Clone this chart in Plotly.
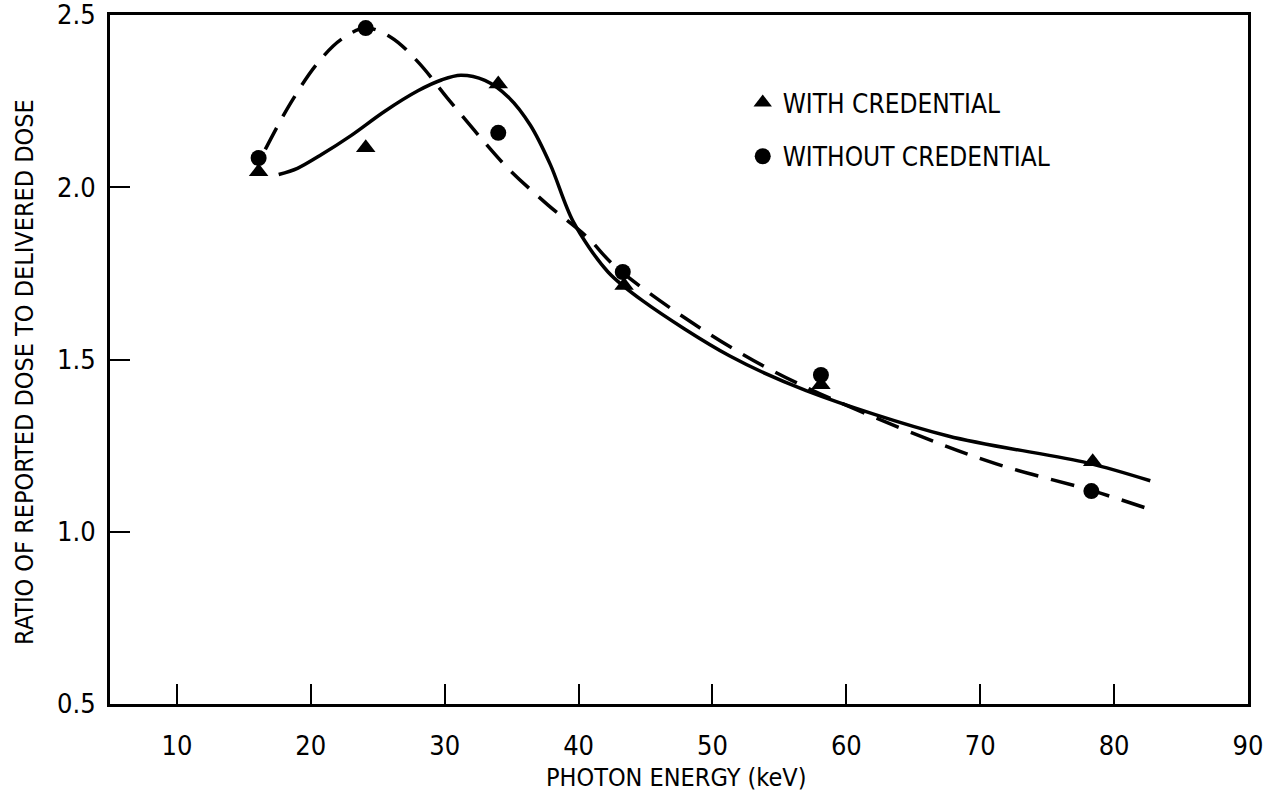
import plotly.graph_objects as go

# Measured points
energy_with = [16.1, 24.1, 34.0, 43.4, 58.1, 78.4]
ratio_with = [2.045, 2.115, 2.30, 1.715, 1.427, 1.203]
energy_without = [16.1, 24.1, 34.0, 43.3, 58.1, 78.3]
ratio_without = [2.085, 2.462, 2.158, 1.754, 1.455, 1.118]

# Hand-drawn fitted curves
curve_with_x = [17.6, 19.0, 20.8, 23.0, 25.5, 28.0, 29.8, 31.2, 33.0, 34.8, 36.4, 37.9, 39.6, 42.2, 44.8, 51.3, 57.0, 67.6, 78.0, 82.7]
curve_with_y = [2.037, 2.055, 2.095, 2.15, 2.22, 2.28, 2.312, 2.325, 2.31, 2.26, 2.18, 2.065, 1.90, 1.754, 1.67, 1.51, 1.41, 1.278, 1.20, 1.148]
curve_without_x = [16.6, 18.5, 20.5, 22.3, 24.1, 26.0, 28.0, 30.2, 32.7, 34.7, 37.7, 40.7, 42.6, 47.7, 54.5, 64.1, 71.2, 78.3, 82.9]
curve_without_y = [2.11, 2.245, 2.36, 2.43, 2.462, 2.435, 2.364, 2.259, 2.143, 2.056, 1.949, 1.853, 1.775, 1.627, 1.467, 1.30, 1.197, 1.12, 1.062]

x_ticks = [10, 20, 30, 40, 50, 60, 70, 80, 90]
y_ticks = [0.5, 1.0, 1.5, 2.0, 2.5]
y_tick_text = ["0.5", "1.0", "1.5", "2.0", "2.5"]

x_title = "PHOTON ENERGY (keV)"
y_title = "RATIO OF REPORTED DOSE TO DELIVERED DOSE"

FONT = "DejaVu Sans Condensed, DejaVu Sans, sans-serif"

fig = go.Figure()
fig.add_trace(go.Scatter(x=curve_with_x, y=curve_with_y, mode="lines",
                         line=dict(color="black", width=3.5, shape="spline", smoothing=0.9),
                         showlegend=False, hoverinfo="skip"))
fig.add_trace(go.Scatter(x=curve_without_x, y=curve_without_y, mode="lines",
                         line=dict(color="black", width=3.5, shape="spline", smoothing=1.0, dash="24px,13px"),
                         showlegend=False, hoverinfo="skip"))
fig.add_trace(go.Scatter(x=energy_with, y=ratio_with, mode="markers", name="WITH CREDENTIAL",
                         marker=dict(symbol="triangle-up", size=17, color="black"),
                         legendgroup="a"))
fig.add_trace(go.Scatter(x=energy_without, y=ratio_without, mode="markers", name="WITHOUT CREDENTIAL",
                         marker=dict(symbol="circle", size=16, color="black"),
                         legendgroup="b"))

fig.update_layout(
    width=1283, height=804,
    margin=dict(l=110, r=35, t=15, b=100, autoexpand=False),
    paper_bgcolor="white", plot_bgcolor="white",
    font=dict(family=FONT, color="black", size=25),
    legend=dict(x=0.556, y=0.907, xanchor="left", yanchor="top",
                font=dict(size=26, family=FONT), traceorder="grouped",
                tracegroupgap=17, bgcolor="rgba(0,0,0,0)", itemwidth=30),
    xaxis=dict(range=[5, 90], tickvals=x_ticks, ticks="inside", ticklen=20, tickwidth=2,
               tickcolor="black", showline=True, linewidth=3, linecolor="black", mirror=True,
               showgrid=False, zeroline=False, tickfont=dict(size=27), automargin=False,
               ticklabelstandoff=16, ticklabeloverflow="allow"),
    yaxis=dict(range=[0.5, 2.5], tickvals=y_ticks, ticktext=y_tick_text,
               ticks="inside", ticklen=20, tickwidth=2, tickcolor="black",
               showline=True, linewidth=3, linecolor="black", mirror=True,
               showgrid=False, zeroline=False, tickfont=dict(size=27), automargin=False,
               ticklabelstandoff=6, ticklabeloverflow="allow"),
    annotations=[
        dict(text=x_title, xref="paper", yref="paper", x=0.497, y=-0.106,
             xanchor="center", yanchor="middle", showarrow=False, font=dict(size=25)),
        dict(text=y_title, xref="paper", yref="paper", x=-0.0747, y=0.482, textangle=-90,
             xanchor="center", yanchor="middle", showarrow=False, font=dict(size=25)),
    ],
)

fig.write_html("out.html")
